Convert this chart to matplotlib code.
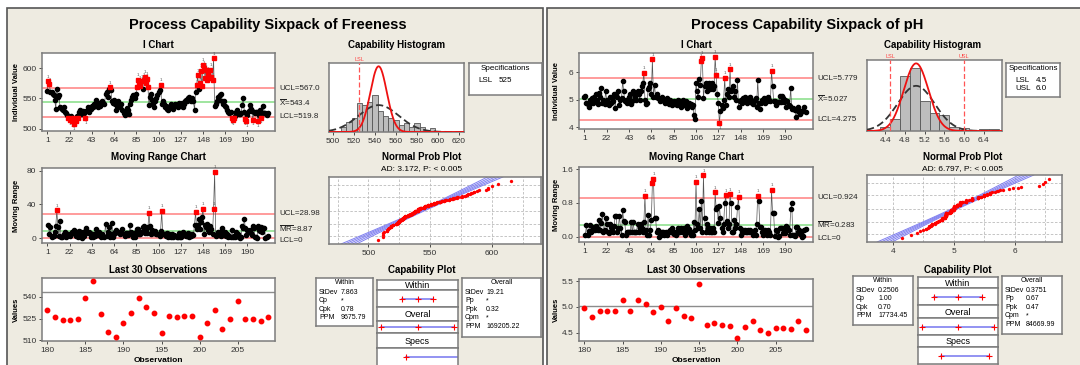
import statistics
import numpy as np
import matplotlib.pyplot as plt
from matplotlib.patches import Rectangle
from matplotlib.transforms import blended_transform_factory as blend

plt.rcParams['font.family'] = ['Liberation Sans', 'DejaVu Sans']
plt.rcParams['mathtext.fontset'] = 'custom'
plt.rcParams['mathtext.rm'] = 'Liberation Sans'

freeness = [
    562, 578, 573, 560, 561, 558, 555, 547, 533, 566,
    553, 556, 536, 534, 533, 530, 535, 528, 526, 523,
    518, 515, 520, 512, 518, 508, 516, 513, 520, 518,
    527, 531, 524, 524, 529, 526, 517, 529, 535, 528,
    534, 532, 537, 535, 540, 537, 548, 540, 536, 543,
    538, 540, 545, 542, 540, 557, 560, 553, 566, 568,
    563, 545, 543, 548, 540, 530, 538, 546, 540, 535,
    541, 530, 525, 522, 528, 534, 530, 524, 540, 547,
    553, 555, 552, 551, 558, 569, 580, 575, 570, 578,
    565, 580, 586, 576, 582, 569, 539, 553, 558, 548,
    542, 536, 545, 550, 555, 560, 563, 572, 540, 545,
    540, 535, 538, 532, 530, 535, 538, 540, 535, 533,
    537, 540, 538, 536, 542, 540, 538, 543, 536, 540,
    545, 548, 545, 551, 553, 548, 545, 550, 546, 530,
    561, 572, 588, 565, 576, 595, 570, 605, 600, 584,
    597, 580, 590, 583, 597, 586, 581, 616, 538, 541,
    545, 552, 548, 555, 558, 546, 541, 545, 538, 535,
    530, 528, 525, 527, 517, 515, 518, 520, 528,
    531, 526, 524, 524, 525, 539, 551, 528, 516, 512,
    522, 529, 539, 533, 529, 515, 527, 526, 527, 527,
    512, 522, 531, 518, 525, 537, 525, 525, 523, 526,
]

ph = [
    5.10, 5.15, 4.88, 4.85, 4.72, 5.00, 4.88, 5.05, 4.88, 5.10,
    4.95, 5.20, 5.00, 4.85, 5.25, 5.10, 5.42, 4.88, 5.00, 4.85,
    5.30, 5.00, 4.88, 4.80, 5.10, 4.88, 5.05, 4.95, 5.20, 4.70,
    5.20, 5.10, 5.30, 4.80, 5.00, 5.05, 5.68, 5.30, 4.95, 5.00,
    4.88, 5.00, 5.10, 5.20, 4.85, 4.95, 5.30, 5.20, 5.10, 5.00,
    5.30, 5.20, 5.00, 5.30, 5.50, 5.62, 5.97, 5.00, 4.85, 4.88,
    5.40, 5.45, 5.60, 5.20, 6.46, 5.10, 5.55, 5.10, 5.20, 5.05,
    5.05, 4.95, 5.00, 5.10, 5.00, 4.95, 4.88, 5.00, 5.05, 4.95,
    4.85, 5.00, 4.80, 4.88, 4.95, 4.85, 4.88, 4.80, 5.00, 4.85,
    4.95, 4.75, 4.88, 5.00, 4.80, 4.85, 4.95, 4.70, 4.88, 4.80,
    4.85, 4.75, 4.80, 4.45, 4.30, 5.60, 5.30, 5.10, 5.75, 5.55,
    6.40, 6.50, 5.05, 5.50, 5.60, 5.30, 5.50, 5.60, 5.40, 5.50,
    5.60, 5.40, 5.50, 6.55, 5.90, 5.20, 4.88, 4.15, 4.60, 4.80,
    4.70, 5.00, 5.80, 4.82, 5.20, 5.40, 5.10, 6.10, 5.30, 5.40,
    5.50, 5.10, 5.30, 5.00, 5.70, 4.75, 4.95, 5.00, 4.88, 5.05,
    4.95, 5.10, 5.00, 4.88, 5.05, 4.95, 5.10, 5.00, 4.88, 4.85,
    5.00, 5.05, 4.75, 5.72, 4.88, 4.65, 4.88, 5.00, 4.95, 5.05,
    4.88, 5.00, 4.95, 5.10, 5.00, 4.95, 6.05, 5.50, 4.95,
    4.97, 4.80, 4.93, 4.93, 4.92, 5.13, 4.93, 5.14, 5.05, 4.90,
    4.99, 4.73, 4.97, 4.82, 4.79, 5.44, 4.65, 4.69, 4.65, 4.63,
    4.39, 4.62, 4.72, 4.55, 4.49, 4.59, 4.59, 4.58, 4.73, 4.55,
]

# summary numbers printed on the charts
fr_stats = dict(mean=543.4, ucl=567.0, lcl=519.8, mr_bar=8.87, mr_ucl=28.98,
                sd_w=7.863, sd_o=19.21, lsl=525, usl=None)
ph_stats = dict(mean=5.027, ucl=5.779, lcl=4.275, mr_bar=0.283, mr_ucl=0.924,
                sd_w=0.2506, sd_o=0.3751, lsl=4.5, usl=6.0)

fr_within = [('StDev', '7.863'), ('Cp', '*'), ('Cpk', '0.78'), ('PPM', '9675.79')]
fr_overall = [('StDev', '19.21'), ('Pp', '*'), ('Ppk', '0.32'), ('Cpm', '*'), ('PPM', '169205.22')]
ph_within = [('StDev', '0.2506'), ('Cp', '1.00'), ('Cpk', '0.70'), ('PPM', '17734.45')]
ph_overall = [('StDev', '0.3751'), ('Pp', '0.67'), ('Ppk', '0.47'), ('Cpm', '*'), ('PPM', '84669.99')]

W, H = 1080, 365
BG = '#EEEBE1'
nd = statistics.NormalDist()

fig = plt.figure(figsize=(10.8, 3.65), dpi=100, facecolor='white')


def px(x0, y0, x1, y1):
    return [x0 / W, 1 - y1 / H, (x1 - x0) / W, (y1 - y0) / H]


def ftext(x, y, s, **kw):
    fig.text(x / W, 1 - y / H, s, **kw)


def frame(ax):
    ax.set_facecolor('white')
    for sp in ax.spines.values():
        sp.set_color('#7c7c7c')
        sp.set_linewidth(1.1)
    ax.tick_params(labelsize=6, length=2.5, width=0.6, colors='#333333', pad=1.5)


def side_label(ax, y, s, dy=0.0):
    ax.annotate(s, xy=(1, y), xycoords=blend(ax.transAxes, ax.transData),
                xytext=(3, dy), textcoords='offset points',
                fontsize=5.8, va='center', ha='left', color='#222222')


def control(ax, x, v, center, ucl, lcl):
    v = np.asarray(v, float)
    out = (v > ucl) | (v < lcl)
    for lim, col in ((ucl, '#ff8a8a'), (lcl, '#ff8a8a'), (center, '#8fe08f')):
        ax.axhline(lim, color=col, lw=1.2, zorder=1)
    ax.plot(x, v, color='#555555', lw=0.5, zorder=2)
    ax.plot(x[~out], v[~out], 'o', color='black', ms=3.0, zorder=3)
    ax.plot(x[out], v[out], 's', color='red', ms=3.4, zorder=4)
    for xi, vi in zip(x[out], v[out]):
        up = vi > ucl
        ax.annotate('1', (xi, vi), xytext=(0, 2 if up else -2), textcoords='offset points',
                    fontsize=3.2, ha='center', va='bottom' if up else 'top', color='#555555')


def pdf(x, m, s):
    return np.exp(-0.5 * ((x - m) / s) ** 2) / (s * np.sqrt(2 * np.pi))


def sixpack(L, vals, st, cfg):
    vals = np.asarray(vals, float)
    n = len(vals)
    obs = np.arange(1, n + 1)
    ftext(L['title_x'], 25, cfg['title'], fontsize=10.5, fontweight='bold', ha='center', va='center')

    # I chart
    ax = fig.add_axes(px(*L['ichart']))
    frame(ax)
    control(ax, obs, vals, st['mean'], st['ucl'], st['lcl'])
    ax.set_xlim(-4, 216)
    ax.set_ylim(*cfg['i_ylim'])
    ax.set_xticks(range(1, 191, 21))
    ax.set_yticks(cfg['i_yticks'])
    side_label(ax, st['ucl'], 'UCL=' + cfg['fmt_ucl'])
    side_label(ax, st['mean'], r'$\overline{\mathrm{X}}$=' + cfg['fmt_mean'])
    side_label(ax, st['lcl'], 'LCL=' + cfg['fmt_lcl'])
    b = L['ichart']
    ftext((b[0] + b[2]) / 2, 45, 'I Chart', fontsize=7, fontweight='bold', ha='center', va='center')
    ftext(L['ylab_x'], (b[1] + b[3]) / 2, 'Individual Value', fontsize=5.5, fontweight='bold',
          rotation=90, ha='center', va='center')

    # moving range chart
    mr = np.abs(np.diff(vals))
    ax = fig.add_axes(px(*L['mr']))
    frame(ax)
    control(ax, obs[1:], mr, st['mr_bar'], st['mr_ucl'], 0.0)
    ax.set_xlim(-4, 216)
    ax.set_ylim(*cfg['mr_ylim'])
    ax.set_xticks(range(1, 191, 21))
    ax.set_yticks(cfg['mr_yticks'])
    ax.set_yticklabels(cfg['mr_yticklabels'])
    side_label(ax, st['mr_ucl'], 'UCL=' + cfg['fmt_mrucl'])
    side_label(ax, st['mr_bar'], r'$\overline{\mathrm{MR}}$=' + cfg['fmt_mr'], dy=cfg['mr_dy'])
    side_label(ax, 0, 'LCL=0', dy=-1.5)
    b = L['mr']
    ftext((b[0] + b[2]) / 2, 157, 'Moving Range Chart', fontsize=7, fontweight='bold', ha='center', va='center')
    ftext(L['ylab_x'], (b[1] + b[3]) / 2, 'Moving Range', fontsize=5.5, fontweight='bold',
          rotation=90, ha='center', va='center')

    # last 30 observations
    ax = fig.add_axes(px(*L['last30']))
    frame(ax)
    ax.axhline(st['mean'], color='#8c8c8c', lw=1.0, zorder=1)
    ax.plot(obs[-30:], vals[-30:], 'o', color='red', ms=3.2, zorder=3)
    ax.set_xlim(179.3, 209.9)
    ax.set_ylim(*cfg['l30_ylim'])
    ax.set_xticks(range(180, 206, 5))
    ax.set_yticks(cfg['l30_yticks'])
    ax.set_yticklabels(cfg['l30_yticklabels'])
    b = L['last30']
    ftext((b[0] + b[2]) / 2, 270, 'Last 30 Observations', fontsize=7, fontweight='bold', ha='center', va='center')
    ftext((b[0] + b[2]) / 2, 360, 'Observation', fontsize=6, fontweight='bold', ha='center', va='center')
    ftext(L['ylab_x'], (b[1] + b[3]) / 2, 'Values', fontsize=5.5, fontweight='bold',
          rotation=90, ha='center', va='center')

    # capability histogram
    ax = fig.add_axes(px(*L['hist']))
    frame(ax)
    edges = np.round(np.arange(*cfg['bins']), 3)
    counts, _, _ = ax.hist(vals, bins=edges, color='#bdbdbd', edgecolor='#555555', lw=0.6, zorder=2)
    bw = edges[1] - edges[0]
    xx = np.linspace(cfg['h_xlim'][0], cfg['h_xlim'][1], 400)
    ax.plot(xx, n * bw * pdf(xx, st['mean'], st['sd_o']), color='#333333', lw=1.3, ls=(0, (4, 2)), zorder=3)
    ax.plot(xx, n * bw * pdf(xx, st['mean'], st['sd_w']), color='#ee1111', lw=1.3, zorder=4)
    peak = max(counts.max(), n * bw * pdf(st['mean'], st['mean'], st['sd_w']))
    ax.set_ylim(0, peak * 1.05)
    ax.set_xlim(*cfg['h_xlim'])
    ax.set_xticks(cfg['h_xticks'])
    ax.set_xticklabels(cfg['h_xticklabels'])
    ax.set_yticks([])
    for name in ('lsl', 'usl'):
        if st[name] is not None:
            ax.axvline(st[name], color='#ff5555', lw=0.9, ls=(0, (4, 2)), zorder=5)
            ax.text(st[name], 1.02, name.upper(), transform=blend(ax.transData, ax.transAxes),
                    fontsize=4, color='#ff4444', ha='center', va='bottom')
    ftext(L['hist_title_x'], 45, 'Capability Histogram', fontsize=7, fontweight='bold', ha='center', va='center')

    # specifications box
    sb = L['spec']
    ax = fig.add_axes(px(*sb))
    frame(ax)
    ax.set_xticks([])
    ax.set_yticks([])
    ftext((sb[0] + sb[2]) / 2, sb[1] + 6, 'Specifications', fontsize=5.8, ha='center', va='center')
    for i, (k, v) in enumerate(cfg['spec_rows']):
        ftext(L['spec_kx'], sb[1] + 17 + 9 * i, k, fontsize=5.8, ha='left', va='center')
        ftext(L['spec_vx'], sb[1] + 17 + 9 * i, v, fontsize=5.8, ha='left', va='center')

    # normal probability plot
    ax = fig.add_axes(px(*L['prob']))
    frame(ax)
    xs = np.sort(vals)
    pp = (np.arange(1, n + 1) - 0.3) / (n + 0.4)
    zs = np.array([nd.inv_cdf(p) for p in pp])
    zlim = nd.inv_cdf(0.999)
    for g in cfg['p_grid']:
        ax.axvline(g, color='#bbbbbb', lw=0.6, ls=(0, (3, 2)), zorder=1)
    for q in (0.01, 0.1, 0.5, 0.9, 0.99):
        ax.axhline(nd.inv_cdf(q), color='#bbbbbb', lw=0.6, ls=(0, (3, 2)), zorder=1)
    zz = np.linspace(-zlim, zlim, 100)
    fit = st['mean'] + st['sd_o'] * zz
    se = st['sd_o'] * np.sqrt((1 + zz ** 2 / 2) / n)
    for k in (-1.96, -0.98, 0, 0.98, 1.96):
        ax.plot(fit + k * se, zz, color='#8080f0', lw=0.7, zorder=2)
    ax.plot(xs, zs, 'o', color='red', ms=2.4, mec='none', zorder=3)
    ax.set_ylim(-zlim, zlim)
    ax.set_xlim(*cfg['p_xlim'])
    ax.set_xticks(cfg['p_xticks'])
    ax.set_yticks([])
    ftext(L['prob_title_x'], 157, 'Normal Prob Plot', fontsize=7, fontweight='bold', ha='center', va='center')
    ftext(L['prob_title_x'], 168.5, cfg['ad'], fontsize=6, ha='center', va='center')

    # capability plot
    ftext(L['cap_title_x'], 270, 'Capability Plot', fontsize=7, fontweight='bold', ha='center', va='center')
    for box, head, rows, vx in ((L['cap_w'], 'Within', cfg['within'], L['cap_w_vx']),
                                (L['cap_o'], 'Overall', cfg['overall'], L['cap_o_vx'])):
        ax = fig.add_axes(px(*box))
        frame(ax)
        ax.set_xticks([])
        ax.set_yticks([])
        ftext((box[0] + box[2]) / 2, box[1] + 4.5, head, fontsize=5, ha='center', va='center')
        for i, (k, v) in enumerate(rows):
            ftext(box[0] + 3, box[1] + 14 + 8.6 * i, k, fontsize=5, ha='left', va='center')
            ftext(box[0] + vx, box[1] + 14 + 8.6 * i, v, fontsize=5, ha='left', va='center')

    m, so, sw = st['mean'], st['sd_o'], st['sd_w']
    cx = (m - 3.3 * so, m + 3.3 * so)
    ys = L['cap_rows']
    lo_spec = st['lsl']
    hi_spec = st['usl'] if st['usl'] is not None else cx[1] + 1
    bars = [('Within', [m - 3 * sw, m, m + 3 * sw]),
            ('Overal', [m - 3 * so, m, m + 3 * so]),
            ('Specs', [lo_spec, hi_spec])]
    for i, (head, pts) in enumerate(bars):
        hax = fig.add_axes(px(L['cap_x'][0], ys[2 * i], L['cap_x'][1], ys[2 * i + 1]))
        frame(hax)
        hax.set_xticks([])
        hax.set_yticks([])
        hax.text(0.5, 0.45, head, fontsize=6.5, ha='center', va='center', transform=hax.transAxes)
        lax = fig.add_axes(px(L['cap_x'][0], ys[2 * i + 1], L['cap_x'][1], ys[2 * i + 2]))
        frame(lax)
        lax.set_xticks([])
        lax.set_yticks([])
        lax.set_xlim(*cx)
        lax.set_ylim(-1, 1)
        lax.plot([pts[0], pts[-1]], [0, 0], color='#8080f0', lw=1.2, zorder=2)
        marks = [p for p in pts if cx[0] <= p <= cx[1]]
        lax.plot(marks, [0] * len(marks), '+', color='red', ms=5, mew=0.8, zorder=3)


# panel backgrounds
fig.patches.append(Rectangle((7 / W, -0.01), (543 - 7) / W, 1.01 - 8 / H, transform=fig.transFigure,
                             facecolor=BG, edgecolor='#555555', lw=1.2, zorder=-5))
fig.patches.append(Rectangle((547 / W, -0.01), (1085 - 547) / W, 1.01 - 8 / H, transform=fig.transFigure,
                             facecolor=BG, edgecolor='#555555', lw=1.2, zorder=-5))

left = dict(title_x=268, ylab_x=16.5,
            ichart=(42, 53, 275, 131), mr=(42, 168, 275, 243), last30=(42, 278, 275, 341),
            hist=(329, 63, 464, 132), hist_title_x=397,
            spec=(469, 63, 542, 95), spec_kx=478, spec_vx=499,
            prob=(329, 177, 541, 244), prob_title_x=422,
            cap_title_x=422, cap_w=(316, 278, 373, 326), cap_o=(462, 278, 541, 337),
            cap_w_vx=25, cap_o_vx=24,
            cap_x=(377, 458), cap_rows=[280, 290, 307, 321, 333, 348, 366])

right = dict(title_x=807, ylab_x=556.5,
             ichart=(579, 53, 813, 129), mr=(579, 167, 813, 242), last30=(579, 279, 813, 341),
             hist=(867, 60, 1002, 131), hist_title_x=933,
             spec=(1006, 63, 1060, 97), spec_kx=1015, spec_vx=1036,
             prob=(867, 175, 1062, 242), prob_title_x=963,
             cap_title_x=958, cap_w=(853, 276, 913, 325), cap_o=(1002, 276, 1062, 334),
             cap_w_vx=25, cap_o_vx=24,
             cap_x=(918, 998), cap_rows=[277, 288, 305, 318, 335, 347, 364])

fr_cfg = dict(title='Process Capability Sixpack of Freeness',
              i_ylim=(496, 625), i_yticks=[500, 550, 600],
              fmt_ucl='567.0', fmt_mean='543.4', fmt_lcl='519.8',
              mr_ylim=(-5.5, 83), mr_yticks=[0, 40, 80], mr_yticklabels=['0', '40', '80'],
              fmt_mrucl='28.98', fmt_mr='8.87', mr_dy=2.0,
              l30_ylim=(509.5, 553), l30_yticks=[510, 525, 540], l30_yticklabels=['510', '525', '540'],
              bins=(502.5, 627.5, 5), h_xlim=(496, 625),
              h_xticks=list(range(500, 621, 20)), h_xticklabels=[str(v) for v in range(500, 621, 20)],
              spec_rows=[('LSL', '525')],
              p_grid=[475, 500, 525, 550, 575, 600, 625], p_xlim=(468, 640), p_xticks=[500, 550, 600],
              ad='AD: 3.172, P: < 0.005', within=fr_within, overall=fr_overall)

ph_cfg = dict(title='Process Capability Sixpack of pH',
              i_ylim=(3.94, 6.69), i_yticks=[4, 5, 6],
              fmt_ucl='5.779', fmt_mean='5.027', fmt_lcl='4.275',
              mr_ylim=(-0.125, 1.65), mr_yticks=[0, 0.8, 1.6], mr_yticklabels=['0.0', '0.8', '1.6'],
              fmt_mrucl='0.924', fmt_mr='0.283', mr_dy=0.5,
              l30_ylim=(4.34, 5.54), l30_yticks=[4.5, 5.0, 5.5], l30_yticklabels=['4.5', '5.0', '5.5'],
              bins=(4.1, 6.91, 0.2), h_xlim=(4.03, 6.77),
              h_xticks=[4.4, 4.8, 5.2, 5.6, 6.0, 6.4], h_xticklabels=['4.4', '4.8', '5.2', '5.6', '6.0', '6.4'],
              spec_rows=[('LSL', '4.5'), ('USL', '6.0')],
              p_grid=[3.5, 4.0, 4.5, 5.0, 5.5, 6.0, 6.5], p_xlim=(3.58, 6.77), p_xticks=[4, 5, 6],
              ad='AD: 6.797, P: < 0.005', within=ph_within, overall=ph_overall)

sixpack(left, freeness, fr_stats, fr_cfg)
sixpack(right, ph, ph_stats, ph_cfg)

fig.savefig('out.png', dpi=100, facecolor='white')
